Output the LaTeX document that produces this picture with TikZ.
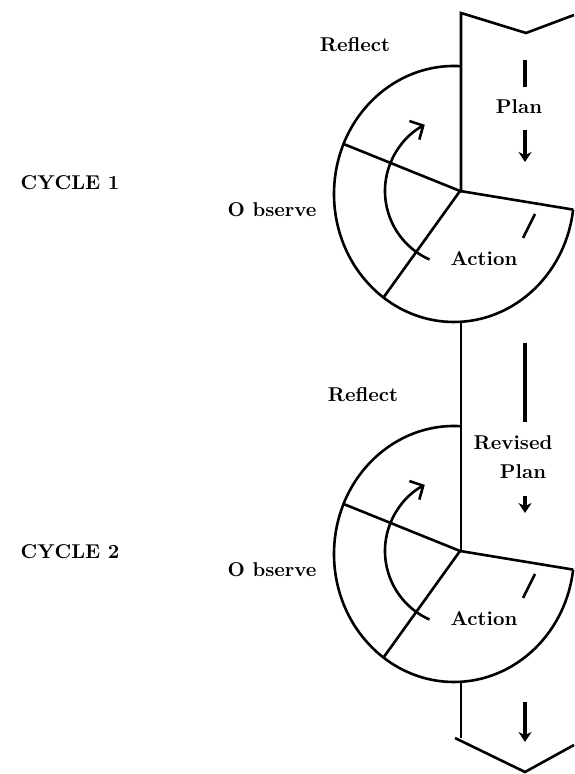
\documentclass[tikz,border=0pt]{standalone}
\usetikzlibrary{arrows.meta}

\begin{document}
\begin{tikzpicture}[x=0.5pt, y=0.5pt, >={Stealth[length=5pt, width=6.5pt]},
  rim/.style={line width=1.3pt, black},
  bar/.style={line width=2.2pt, black},
  shaft/.style={line width=1.8pt, black, ->},
  lbl/.style={font=\bfseries, inner sep=0pt}]

\useasboundingbox (0, 0) rectangle (574, 774);

% one wheel per cycle
\foreach \cy/\n/\ly/\rfx/\rfy in {582/1/591/355/729, 222/2/222/363/379} {
  \coordinate (center) at (454, \cy-2);
  \coordinate (hub\n) at (460, \cy+1);
  \path (center) ++(157:120 and 128) coordinate (upper);
  \path (center) ++(234:120 and 128) coordinate (lower);
  \path (center) ++(353:120 and 128) coordinate (right);

  \draw[rim] (center) ++(86.7:120 and 128) arc[start angle=86.7, end angle=353, x radius=120, y radius=128];
  \draw[rim] (upper) -- (hub\n) -- (right);
  \draw[rim] (hub\n) -- (lower);

  \draw[rim, -{Straight Barb[length=5pt, width=10.5pt]}] (hub\n) ++(246:75) arc[start angle=246, end angle=118, radius=75];
  \draw[rim] (523, \cy-46) -- (535, \cy-22);

  \node[lbl] (cycle\n) at (70, \ly) {CYCLE \n};
  \node[lbl] (reflect\n) at (\rfx, \rfy) {Reflect};
  \node[lbl] (observe\n) at (272, \cy-18) {O bserve};
  \node[lbl] (action\n) at (484, \cy-67) {Action};
}

% the plan band
\draw[rim] (574, 759) -- (526, 741) -- (461, 761) -- (461, 583) -- (hub1);
\draw[rim] (461, 452) -- (461, 223) -- (hub2);
\draw[rim] (461, 92) -- (461, 36);
\draw[rim] (455, 36) -- (525, 2) -- (574, 29);

\draw[bar] (525, 714) -- (525, 687);
\node[lbl] (plan) at (519, 667) {Plan};
\draw[shaft] (525, 644) -- (525, 612);

\draw[bar] (525, 431) -- (525, 352);
\node[lbl] (revised) at (513, 331) {Revised};
\node[lbl] (plan2) at (523, 302) {Plan};
\draw[shaft] (525, 278) -- (525, 261);

\draw[shaft] (525, 72) -- (525, 32);

\end{tikzpicture}
\end{document}
